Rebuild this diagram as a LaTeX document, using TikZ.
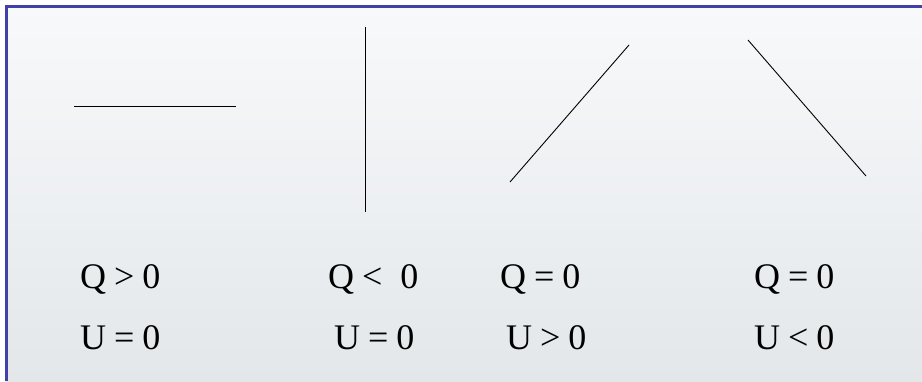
\documentclass[tikz,border=0pt]{standalone}
\usepackage{fontspec}
\setmainfont{Liberation Serif}
\definecolor{frameblue}{RGB}{64,64,168}
\definecolor{bgtop}{RGB}{248,249,251}
\definecolor{bgbot}{RGB}{227,231,234}
\newcommand{\gap}{\hspace{0.22em}}
\tikzset{
    lbl/.style={anchor=base west, inner sep=0pt, font=\fontsize{36}{36}\selectfont},
    curve/.style={black, line width=0.9pt}
}
\begin{document}
\begin{tikzpicture}[x=1pt,y=-1pt]
            \useasboundingbox (0,0) rectangle (922,381);
            \shade [top color=bgtop, bottom color=bgbot] (6,6) rectangle (922,381);
            \draw [frameblue, line width=3pt] (6,381) -- (6,6) -- (922,6);

            % the four processes
            \coordinate (h1) at (74,106);  \coordinate (h2) at (236,106);
            \coordinate (v1) at (365,27);  \coordinate (v2) at (365,212);
            \coordinate (r1) at (510,182); \coordinate (r2) at (629,45);
            \coordinate (f1) at (748,40);  \coordinate (f2) at (866,176);
            \draw [curve] (h1) -- (h2);
            \draw [curve] (v1) -- (v2);
            \draw [curve] (r1) -- (r2);
            \draw [curve] (f1) -- (f2);

            \node[lbl] (q1) at (80,288) {Q\gap>\gap0};
            \node[lbl] (u1) at (80,349) {U\gap=\gap0};
            \node[lbl] (q2) at (328,288) {Q\gap<\enspace 0};
            \node[lbl] (u2) at (334,349) {U\gap=\gap0};
            \node[lbl] (q3) at (500,288) {Q\gap=\gap0};
            \node[lbl] (u3) at (506,349) {U\gap>\gap0};
            \node[lbl] (q4) at (754,288) {Q\gap=\gap0};
            \node[lbl] (u4) at (754,349) {U\gap<\gap0};
        \end{tikzpicture}
\end{document}
